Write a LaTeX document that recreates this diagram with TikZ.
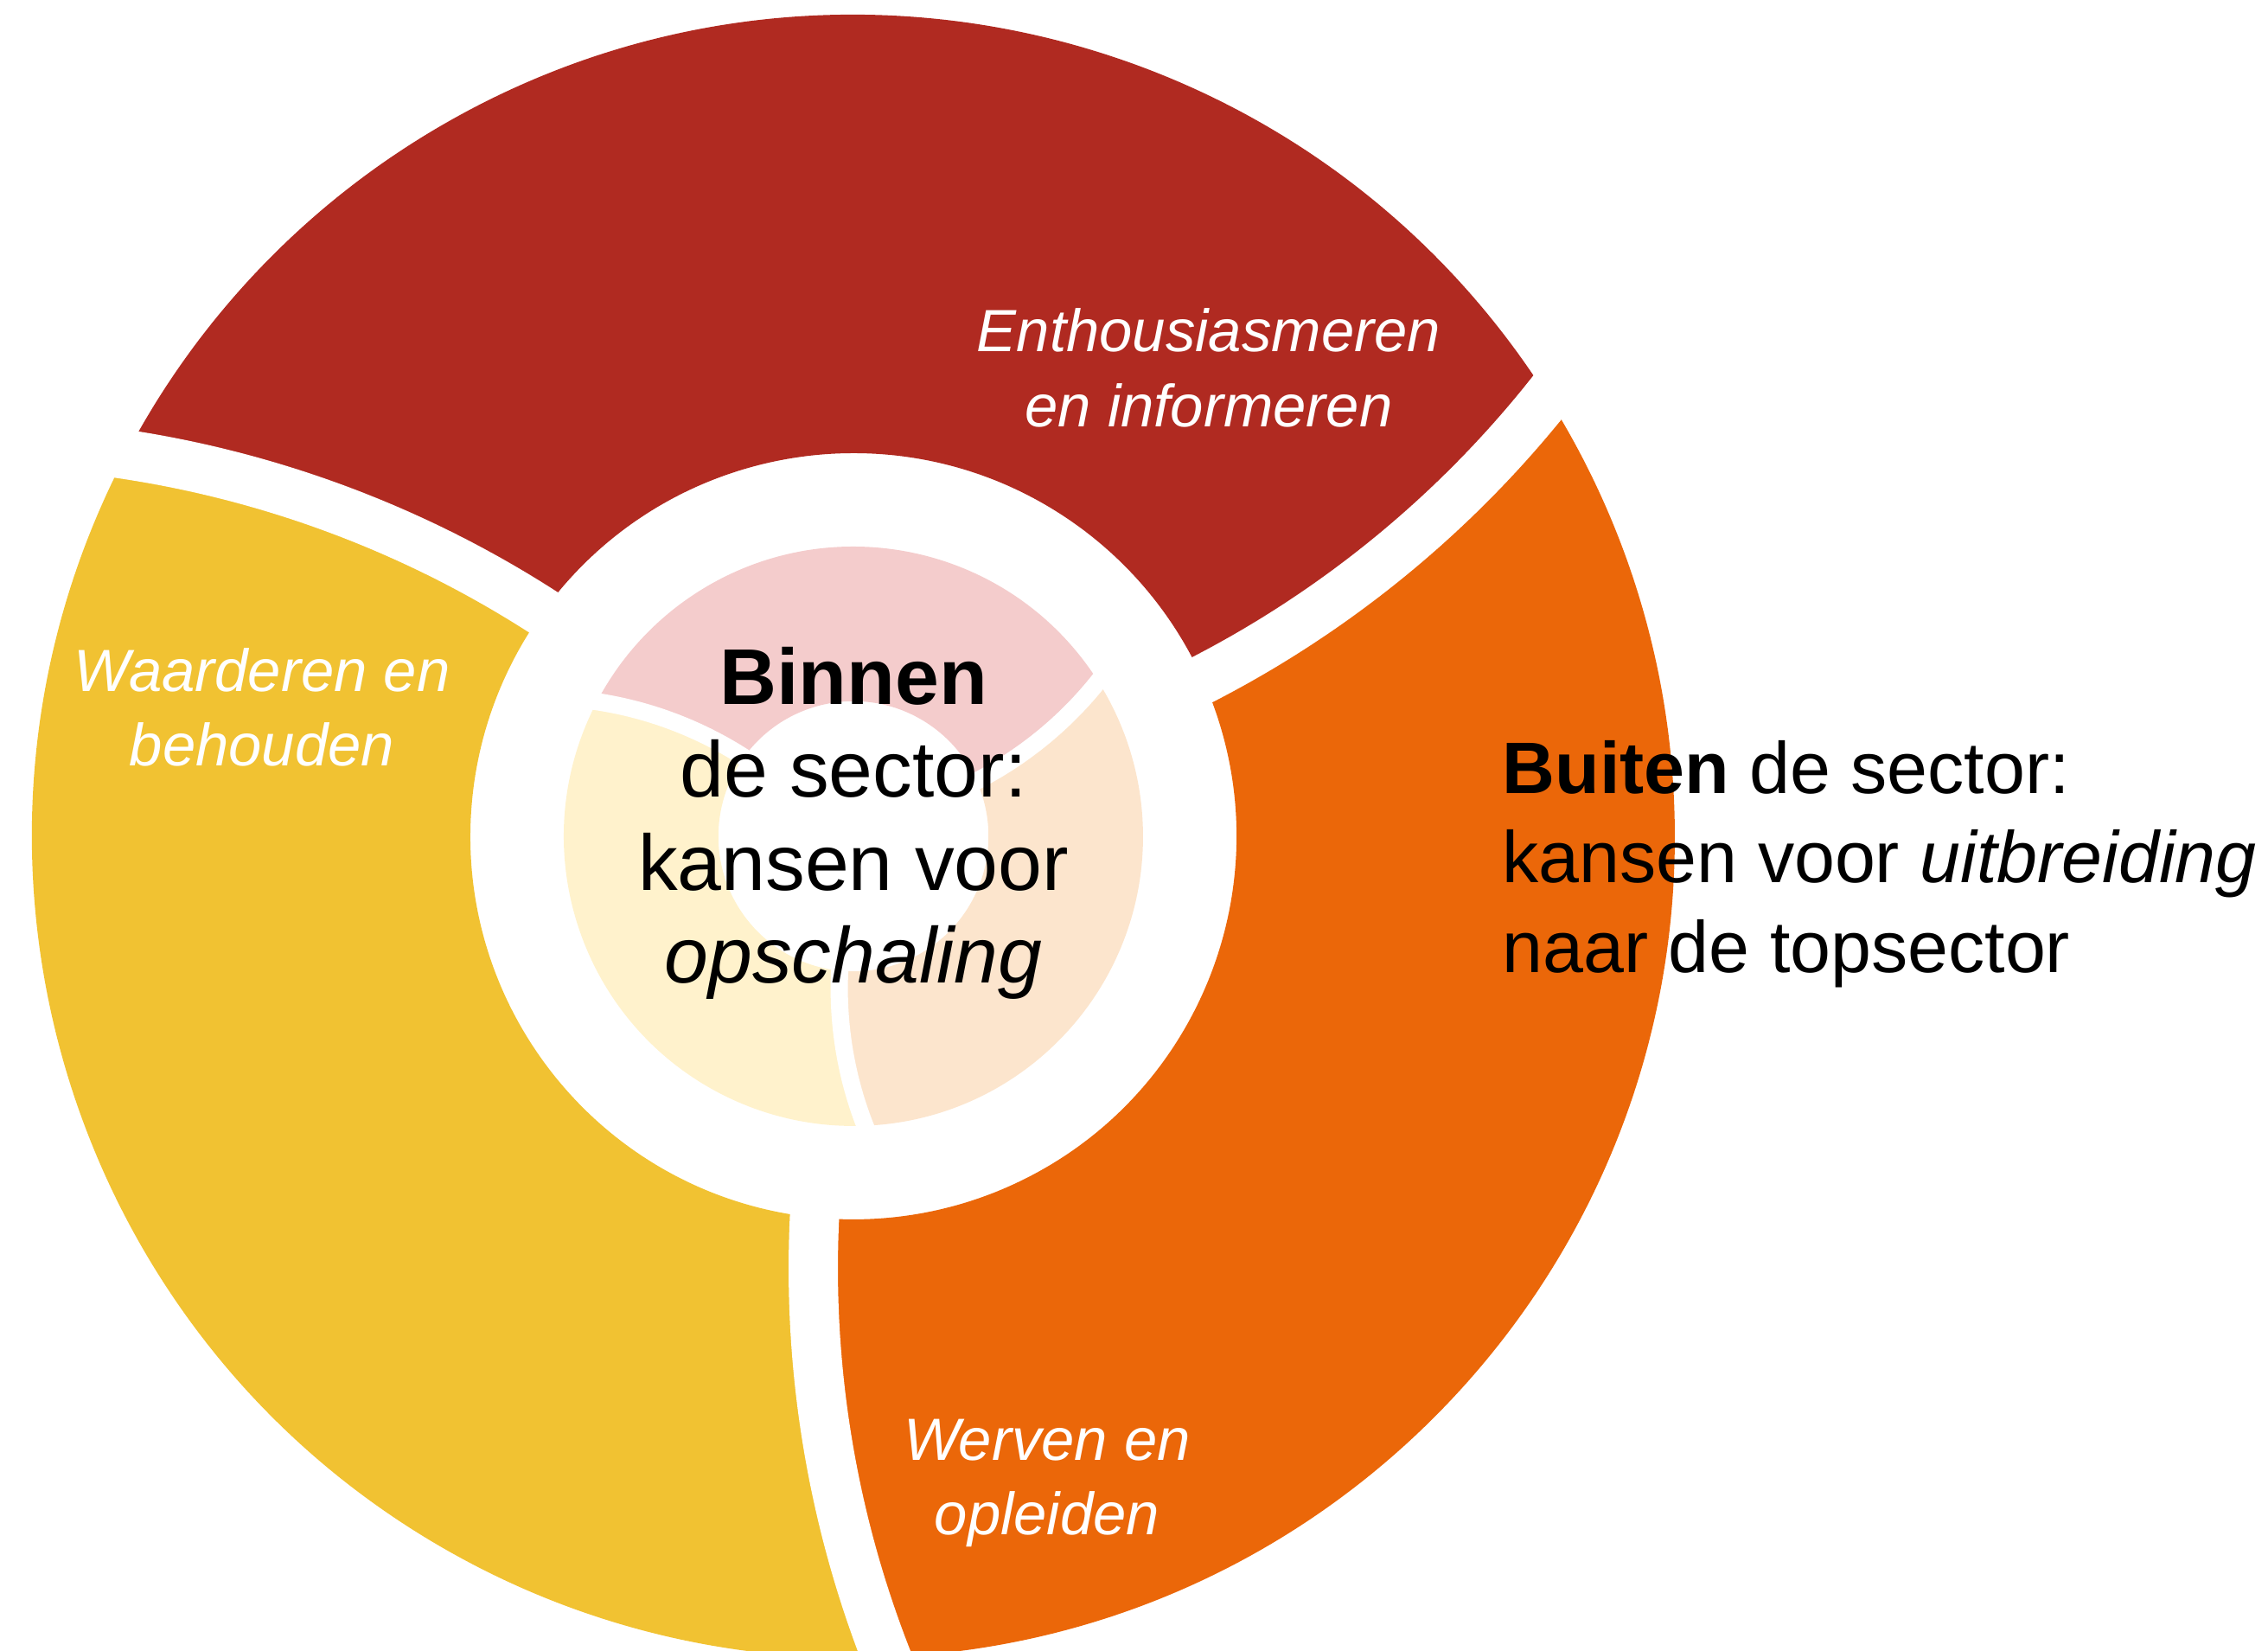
\documentclass[tikz,border=0pt]{standalone}
\usepackage{fontspec}
\setmainfont{Liberation Sans}

\definecolor{ringred}{HTML}{B02A21}
\definecolor{ringorange}{HTML}{EB6709}
\definecolor{ringyellow}{HTML}{F1C232}
\definecolor{palered}{HTML}{F4CCCC}
\definecolor{paleorange}{HTML}{FCE5CD}
\definecolor{paleyellow}{HTML}{FFF2CC}

% ring geometry: radii, angles where a gap meets the circles, gap arc
\def\Ro{9.50}
\def\Ri{4.43}
\def\Rg{12.35}
\def\Cg{12.894}
\def\cA{-22.81}
\def\aO{-87.70}
\def\aI{-95.84}
\def\gS{177.25}
\def\gE{201.33}

% one coloured part of the ring, from gap #1 to gap #1+1
\newcommand{\ringpart}[2]{%
	\fill[#2] (\aO+120*#1:\Ro)
	arc[start angle=\aO+120*#1, end angle=\aO+120*#1+120, radius=\Ro]
	arc[start angle=\gE+120*#1+120, end angle=\gS+120*#1+120, radius=\Rg]
	arc[start angle=\aI+120*#1+120, end angle=\aI+120*#1, radius=\Ri]
	arc[start angle=\gS+120*#1, end angle=\gE+120*#1, radius=\Rg]
	-- cycle;}

% the white curved gap number #1
\newcommand{\ringgap}[2]{%
	\draw[gapline=#2] (\cA+120*#1:\Cg) ++(\gS-2+120*#1:\Rg)
	arc[start angle=\gS-2+120*#1, end angle=\gE+2+120*#1, radius=\Rg];}

\begin{document}
\begin{tikzpicture}[
		gapline/.style={draw=white, line width=#1},
		tag/.style={text=white, align=center, font=\fontsize{19.6}{24.7}\selectfont\itshape},
	]
	
	\useasboundingbox (-9.87,-9.42) rectangle (16.36,9.67);
	
	% outer ring
	\foreach \k/\col in {0/ringorange,1/ringred,2/ringyellow} {\ringpart{\k}{\col}}
	\foreach \k in {0,1,2} {\ringgap{\k}{0.57cm}}
	
	% the inner pie, same shape scaled down
	\begin{scope}[scale=0.3526]
		\foreach \k/\col in {0/paleorange,1/palered,2/paleyellow} {\ringpart{\k}{\col}}
		\foreach \k in {0,1,2} {\ringgap{\k}{0.20cm}}
	\end{scope}
	
	\node[tag] (enthus) at (4.11,5.42) {Enthousiasmeren\\en informeren};
	\node[tag] (waard) at (-6.84,1.49) {Waarderen en\\behouden};
	\node[tag] (werven) at (2.24,-7.48) {Werven en\\opleiden};
	
	\node[align=center, font=\fontsize{26}{30.6}\selectfont] (binnen) at (0,0.15)
	{\textbf{Binnen}\\de sector:\\kansen voor\\\textit{opschaling}};
	
	\node[anchor=west, inner sep=0pt, align=left, font=\fontsize{24}{29.5}\selectfont] (buiten) at (7.50,-0.32)
	{\textbf{Buiten} de sector:\\kansen voor \textit{uitbreiding}\\naar de topsector};
	
\end{tikzpicture}
\end{document}
